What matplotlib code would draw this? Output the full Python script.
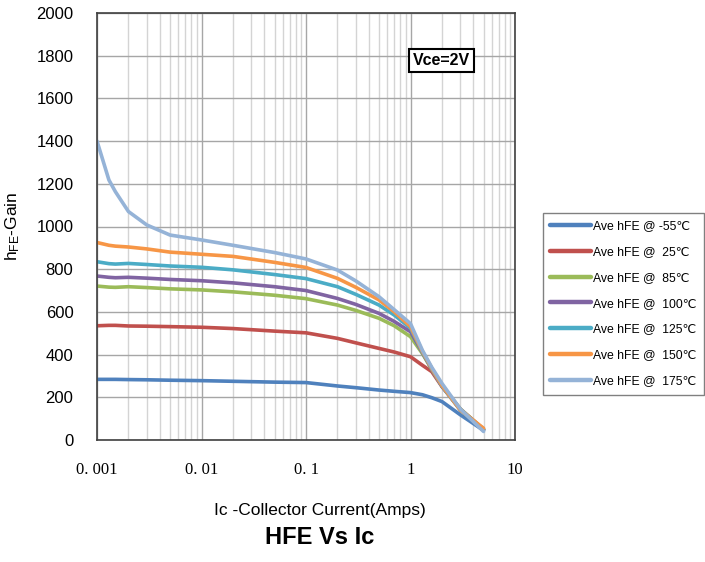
import matplotlib.pyplot as plt
from matplotlib.ticker import FixedLocator, LogLocator, NullFormatter

plt.rcParams['font.family'] = ['Liberation Sans', 'DejaVu Sans']
plt.rcParams['mathtext.default'] = 'regular'

# collector current (A)
ic = [0.001, 0.0013, 0.0015, 0.002, 0.003, 0.005, 0.01, 0.02, 0.05, 0.1,
      0.2, 0.3, 0.5, 0.7, 1.0, 1.3, 1.6, 2.0, 3.0, 5.0]

hfe_m55 = [284, 284, 284, 283, 282, 280, 278, 275, 271, 269,
           253, 245, 234, 228, 222, 212, 198, 180, 118, 45]
hfe_25 = [535, 537, 537, 534, 533, 531, 528, 522, 510, 502,
          476, 455, 429, 412, 390, 350, 320, 250, 145, 50]
hfe_85 = [721, 716, 715, 718, 714, 708, 703, 694, 678, 662,
          632, 607, 570, 535, 484, 405, 330, 255, 145, 50]
hfe_100 = [768, 762, 760, 762, 758, 752, 746, 736, 718, 700,
           663, 635, 593, 555, 507, 410, 332, 252, 142, 48]
hfe_125 = [835, 826, 824, 827, 822, 815, 809, 797, 775, 756,
           718, 682, 632, 585, 524, 412, 333, 252, 140, 50]
hfe_150 = [925, 912, 908, 904, 895, 880, 870, 860, 832, 808,
           757, 715, 656, 600, 531, 415, 335, 255, 140, 55]
hfe_175 = [1400, 1218, 1163, 1070, 1007, 960, 937, 912, 878, 848,
           796, 745, 671, 610, 545, 420, 340, 265, 145, 40]

series = [hfe_m55, hfe_25, hfe_85, hfe_100, hfe_125, hfe_150, hfe_175]
labels = ['Ave hFE @ -55\u2103', 'Ave hFE @  25\u2103', 'Ave hFE @  85\u2103',
          'Ave hFE @  100\u2103', 'Ave hFE @  125\u2103', 'Ave hFE @  150\u2103',
          'Ave hFE @  175\u2103']
colors = ['#4F81BD', '#C0504D', '#9BBB59', '#8064A2', '#4BACC6', '#F79646', '#95B3D7']

xticks = [0.001, 0.01, 0.1, 1, 10]
xticklabels = ['0. 001', '0. 01', '0. 1', '1', '10']
yticks = list(range(0, 2001, 200))

fig = plt.figure(figsize=(7.05, 5.62), dpi=100)
ax = fig.add_axes([97/705, 1-440/562, 418/705, 427/562])

for y, lab, c in zip(series, labels, colors):
    ax.plot(ic, y, color=c, lw=2.6, label=lab, solid_capstyle='round')

ax.set_xscale('log')
ax.set_xlim(0.001, 10)
ax.set_ylim(0, 2000)
ax.xaxis.set_major_locator(FixedLocator(xticks))
ax.set_xticklabels(xticklabels, family='Liberation Serif', fontsize=12)
ax.xaxis.set_minor_locator(LogLocator(base=10, subs=range(2, 10)))
ax.xaxis.set_minor_formatter(NullFormatter())
ax.set_yticks(yticks)
ax.tick_params(axis='y', labelsize=12, length=0, pad=17)
ax.tick_params(axis='x', which='both', length=0, pad=16)

ax.grid(True, which='major', axis='both', color='#a6a6a6', lw=1.0)
ax.grid(True, which='minor', axis='x', color='#d4d4d4', lw=1.0)
ax.set_axisbelow(True)
for s in ax.spines.values():
    s.set_color('#404040')
    s.set_linewidth(1.2)

ax.text(0.755, 0.888, 'Vce=2V', transform=ax.transAxes, fontsize=11.5,
        fontweight='bold', ha='left', va='center',
        bbox=dict(boxstyle='square,pad=0.25', fc='white', ec='black', lw=1.5))

ax.set_ylabel('h$_{FE}$-Gain', fontsize=12.5, labelpad=10)
fig.text(320/705, 1-510/562, 'Ic -Collector Current(Amps)', fontsize=12.5,
         ha='center', va='center')
fig.text(320/705, 1-538/562, 'HFE Vs Ic', fontsize=17, fontweight='bold',
         ha='center', va='center')

leg = fig.legend(loc='upper left', bbox_to_anchor=(543/705, 1-213/562),
                 fontsize=8.8, frameon=True, fancybox=False, handlelength=3.3,
                 handletextpad=0.2, labelspacing=1.13, borderpad=0.6,
                 borderaxespad=0)
leg.get_frame().set_edgecolor('#606060')
leg.get_frame().set_linewidth(1.0)
for h in leg.get_lines():
    h.set_linewidth(3.2)

fig.savefig('out.png', dpi=100)
